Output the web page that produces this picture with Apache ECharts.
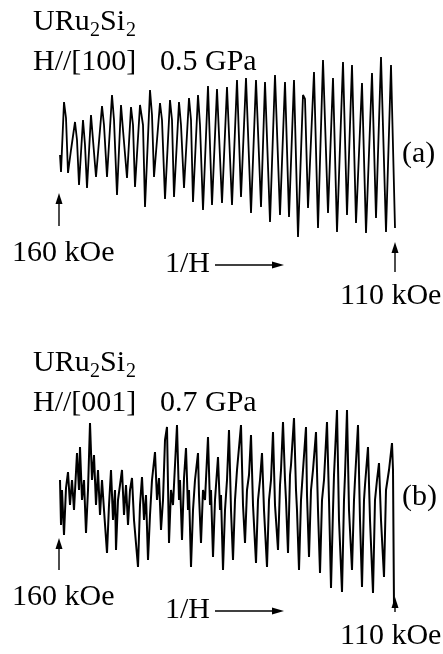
<!DOCTYPE html>
<html>
<head>
<meta charset="utf-8">
<script src="https://cdn.jsdelivr.net/npm/echarts@6/dist/echarts.min.js"></script>
<style>html,body{margin:0;padding:0;background:#fff;}#c{width:443px;height:654px;}</style>
</head>
<body>
<div id="c"></div>
<script>
// Panel (a): H//[100], 0.5 GPa  — x: 1/H position (arb. units, left = 160 kOe), y: dHvA signal (arb. units)
var aX = [1,2,5,7,9,12,16,18,20,24,
  26,28,32,34,37,43,45,48,53,55,
  58,62,64,68,72,74,76,81,84,86,
  91,93,95,101,103,106,111,113,115,120,
  122,125,130,132,134,139,141,144,149,153,
  158,163,168,173,178,182,187,192,197,202,
  206,211,216,221,226,230,235,239,244,246,
  249,255,259,264,269,274,278,284,288,293,
  297,303,307,313,317,322,327,332,336];
var aY = [-5,-22,48,32,-23,0,28,10,-35,30,
  5,-38,35,10,-27,44,25,-27,55,30,
  -45,45,20,-28,43,25,-37,45,25,-57,
  60,35,-27,47,30,-49,50,30,-47,48,
  25,-38,52,30,-52,55,25,-60,64,-55,
  61,-53,63,-55,70,-47,72,-63,70,-57,
  68,-72,75,-65,68,-67,70,-87,55,51,
  -58,78,-78,90,-63,72,-82,88,-65,85,
  -73,67,-83,77,-68,93,-82,85,-78];

// Panel (b): H//[001], 0.7 GPa
var bX = [1,2,3,5,7,9,11,13,15,18,
  20,21,23,25,27,29,31,33,35,37,
  39,41,43,45,48,50,52,54,56,57,
  59,61,63,65,67,69,71,73,75,79,
  81,83,85,87,89,91,93,96,98,100,
  102,104,106,108,110,112,114,118,120,121,
  123,125,127,129,130,132,134,136,139,140,
  142,144,146,149,151,152,154,156,159,161,
  162,164,166,168,170,172,174,176,178,182,
  184,186,188,190,192,194,197,199,201,203,
  205,208,210,212,214,216,219,221,222,224,
  226,227,229,231,232,235,237,238,240,242,
  244,247,248,250,252,254,257,259,261,263,
  265,268,270,272,274,275,278,280,283,285,
  286,288,290,293,295,296,299,301,303,305,
  306,309,311,314,316,318,320,322,325,327,
  330,333,334,335];
var bY = [30,-15,20,-25,22,38,5,30,0,57,
  20,63,10,30,-23,20,87,30,55,5,
  40,-5,30,0,-43,5,40,-10,20,-40,
  10,25,40,-5,25,-15,20,32,-10,-57,
  5,33,-10,15,-50,-5,30,58,10,32,
  -20,10,70,83,-33,20,5,85,10,30,
  -30,32,62,0,20,-57,0,30,57,15,
  -33,20,10,73,5,20,-47,10,53,0,
  15,-60,0,30,80,0,-50,10,40,85,
  5,-33,20,35,75,5,-53,10,30,57,
  0,-57,10,30,78,5,-40,25,40,88,
  30,10,-43,35,45,92,20,0,-60,10,
  40,83,15,-47,20,40,78,0,-63,10,
  30,88,10,-78,0,35,100,-10,-82,10,
  35,100,0,-60,10,30,85,-10,-77,10,
  25,63,-10,-83,10,30,47,-10,-67,20,
  40,67,40,-97];

var panelA = {compound: ['URu', '2', 'Si', '2'], field: 'H//[100]', pressure: '0.5 GPa', tag: '(a)'};
var panelB = {compound: ['URu', '2', 'Si', '2'], field: 'H//[001]', pressure: '0.7 GPa', tag: '(b)'};
var fieldLabels = ['160 kOe', '110 kOe'];
var axisLabel = '1/H';

function pairs(xs, ys) { return xs.map(function (x, i) { return [x, ys[i]]; }); }

var FONT = '"Liberation Serif","Times New Roman",serif';
function txt(t, x, y, size) {
  return {type: 'text', x: x, y: y, style: {text: t, font: size + 'px ' + FONT, fill: '#000', textAlign: 'left', textVerticalAlign: 'middle'}};
}
function upArrow(x, tip, tail) {
  return [
    {type: 'line', shape: {x1: x, y1: tip + 6, x2: x, y2: tail}, style: {stroke: '#000', lineWidth: 1.4}},
    {type: 'polygon', shape: {points: [[x, tip], [x - 3.5, tip + 11], [x + 3.5, tip + 11]]}, style: {fill: '#000'}}
  ];
}
function rightArrow(x1, x2, y) {
  return [
    {type: 'line', shape: {x1: x1, y1: y, x2: x2 - 6, y2: y}, style: {stroke: '#000', lineWidth: 1.4}},
    {type: 'polygon', shape: {points: [[x2, y], [x2 - 12, y - 3.5], [x2 - 12, y + 3.5]]}, style: {fill: '#000'}}
  ];
}
function panelGraphics(p, off) {
  var g = [];
  g.push(txt(p.compound[0], 33, 22 + off, 30));
  g.push(txt(p.compound[1], 90, 31 + off, 20));
  g.push(txt(p.compound[2], 100, 22 + off, 30));
  g.push(txt(p.compound[3], 126, 31 + off, 20));
  g.push(txt(p.field, 33, 62 + off, 30));
  g.push(txt(p.pressure, 160, 62 + off, 30));
  return g;
}

var graphics = [];
graphics = graphics.concat(panelGraphics(panelA, 0));
graphics = graphics.concat(panelGraphics(panelB, 341));
graphics.push(txt(panelA.tag, 402, 154, 30));
graphics.push(txt(panelB.tag, 402, 497, 30));
graphics.push(txt(fieldLabels[0], 12, 253, 30));
graphics.push(txt(axisLabel, 165, 264, 30));
graphics.push(txt(fieldLabels[1], 340, 296, 30));
graphics.push(txt(fieldLabels[0], 12, 597, 30));
graphics.push(txt(axisLabel, 165, 610, 30));
graphics.push(txt(fieldLabels[1], 340, 636, 30));
graphics = graphics.concat(upArrow(59, 193, 226));
graphics = graphics.concat(upArrow(395, 242, 272));
graphics = graphics.concat(upArrow(59, 538, 570));
graphics = graphics.concat(upArrow(395, 597, 612));
graphics = graphics.concat(rightArrow(215, 284, 265));
graphics = graphics.concat(rightArrow(215, 284, 611));

var chart = echarts.init(document.getElementById('c'), null, {renderer: 'canvas'});
chart.setOption({
  animation: false,
  backgroundColor: '#fff',
  grid: [
    {left: 59, top: 50, width: 340, height: 200},
    {left: 59, top: 410, width: 340, height: 200}
  ],
  xAxis: [
    {type: 'value', gridIndex: 0, min: 0, max: 340, show: false},
    {type: 'value', gridIndex: 1, min: 0, max: 340, show: false}
  ],
  yAxis: [
    {type: 'value', gridIndex: 0, min: -100, max: 100, show: false},
    {type: 'value', gridIndex: 1, min: -100, max: 100, show: false}
  ],
  series: [
    {type: 'line', xAxisIndex: 0, yAxisIndex: 0, data: pairs(aX, aY), symbol: 'none', lineStyle: {color: '#000', width: 1.8}},
    {type: 'line', xAxisIndex: 1, yAxisIndex: 1, data: pairs(bX, bY), symbol: 'none', lineStyle: {color: '#000', width: 2}}
  ],
  graphic: graphics
});
</script>
</body>
</html>
